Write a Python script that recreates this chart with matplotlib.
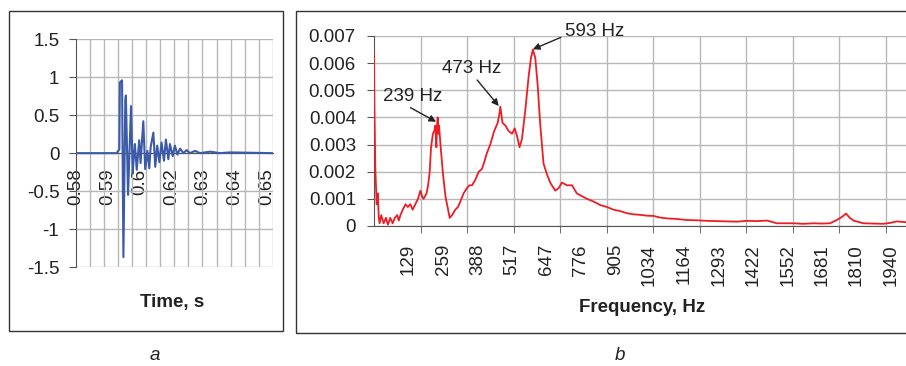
import matplotlib
matplotlib.use("Agg")
import matplotlib.pyplot as plt
from matplotlib.patches import Rectangle
import numpy as np

plt.rcParams['font.family'] = ['Liberation Sans', 'DejaVu Sans']

# panel a: impulse response (peaks and troughs)
time_s = [0.58, 0.5949, 0.5959, 0.5961, 0.5969, 0.5974, 0.5981, 0.5983, 0.5991,
          0.6002, 0.6008, 0.6013, 0.6016, 0.6023, 0.6032, 0.6037, 0.6047, 0.6054,
          0.6062, 0.6069, 0.6074, 0.6084, 0.6091, 0.6098, 0.6106, 0.6114, 0.6123,
          0.6130, 0.6139, 0.6145, 0.6155, 0.6163, 0.6172, 0.6182, 0.6194, 0.6206,
          0.6218, 0.6237, 0.6255, 0.6292, 0.6328, 0.6365, 0.6522]
signal = [0.0, 0.0, 0.05, 0.93, 0.96, -1.37, 0.69, 0.76, -0.55,
          0.62, -0.27, 0.0, 0.12, -0.22, 0.17, -0.13, 0.42, -0.21,
          0.03, -0.20, 0.08, 0.27, -0.18, 0.10, -0.12, 0.14, -0.10,
          0.18, -0.08, 0.12, -0.04, 0.10, -0.02, 0.06, 0.0, 0.04,
          0.0, 0.03, 0.0, 0.02, 0.0, 0.01, 0.0]
time_labels = ["0.58", "0.59", "0.6", "0.62", "0.63", "0.64", "0.65"]

# panel b: amplitude spectrum
freq_hz = [0, 1.5, 5, 10, 14, 18, 21, 27, 36, 45, 52, 61, 70, 78, 87, 93, 99, 108,
           118, 127, 136, 145, 155, 165, 174, 180, 186, 197, 203, 209, 214, 221,
           226, 230, 234, 237, 239, 242, 244, 251, 259, 268, 276, 284, 293, 305,
           315, 324, 336, 349, 358, 368, 380, 393, 405, 415, 424, 436, 451, 464,
           470, 474, 478, 482, 493, 505, 518, 528, 537, 546, 555, 568, 580, 589,
           596, 605, 614, 624, 636, 649, 661, 680, 693, 705, 724, 743, 761, 780,
           799, 824, 849, 874, 899, 924, 949, 974, 999, 1024, 1049, 1074, 1099,
           1136, 1174, 1211, 1249, 1286, 1324, 1361, 1399, 1436, 1474, 1490, 1511,
           1540, 1574, 1611, 1649, 1680, 1711, 1736, 1755, 1771, 1785, 1799, 1836,
           1874, 1911, 1940, 1961, 1996]
amplitude = [0.0064, 0.0045, 0.0021, 0.0008, 0.0012, 0.0003, 0.0001, 0.0004, 0.0001,
             0.0003, 0.00005, 0.0003, 0.0001, 0.0003, 0.0004, 0.0002, 0.0004, 0.0006,
             0.0008, 0.0007, 0.0008, 0.0006, 0.0008, 0.0010, 0.0013, 0.0011, 0.0010,
             0.0012, 0.0015, 0.0020, 0.0029, 0.0034, 0.0035, 0.0037, 0.0029, 0.0038,
             0.0040, 0.0034, 0.0037, 0.0028, 0.0019, 0.0011, 0.0007, 0.0003, 0.0004,
             0.0006, 0.0007, 0.0009, 0.0012, 0.0014, 0.0015, 0.0015, 0.0017, 0.0020,
             0.0021, 0.0024, 0.0027, 0.0030, 0.0035, 0.0038, 0.0041, 0.0044, 0.0041,
             0.0038, 0.0037, 0.0035, 0.0034, 0.0036, 0.0033, 0.0029, 0.0032, 0.0043,
             0.0055, 0.0062, 0.0065, 0.0062, 0.0052, 0.0037, 0.0023, 0.0019, 0.0016,
             0.0013, 0.0014, 0.0016, 0.0015, 0.0015, 0.0012, 0.0011, 0.0010, 0.0009,
             0.00077, 0.0007, 0.0006, 0.00055, 0.00047, 0.00043, 0.00041, 0.00038,
             0.00037, 0.00031, 0.00028, 0.00026, 0.00022, 0.00021, 0.00019, 0.00018,
             0.00017, 0.00016, 0.00019, 0.00018, 0.0002, 0.00016, 0.0001, 0.0001,
             0.0001, 0.00008, 0.0001, 0.00009, 0.0001, 0.00022, 0.00033, 0.00046,
             0.0003, 0.0002, 0.0001, 0.00009, 0.00008, 0.00012, 0.00017, 0.00014]
freq_labels = [129, 259, 388, 517, 647, 776, 905, 1034, 1164, 1293, 1422, 1552,
               1681, 1810, 1940]
peak_labels = ["239 Hz", "473 Hz", "593 Hz"]
peak_xy = [(233, 0.00384), (468, 0.00442), (596, 0.00651)]
arrow_tail = [(137, 0.00436), (387, 0.00538), (701, 0.00695)]
label_xy = [(144, 0.00476), (365, 0.00581), (826, 0.00715)]

grid_c = "#b8b8b8"
axis_c = "#555555"
text_c = "#222222"
fs = 13.5

fig = plt.figure(figsize=(9.06, 3.66), dpi=100)

# frames around the panels
fig.patches.append(Rectangle((9 / 906, 1 - 331 / 366), 274 / 906, 320 / 366,
                             transform=fig.transFigure, fill=False,
                             edgecolor="#333333", lw=1.0))
fig.patches.append(Rectangle((295.5 / 906, 1 - 333 / 366), 620 / 906, 322 / 366,
                             transform=fig.transFigure, fill=False,
                             edgecolor="#333333", lw=1.0))

# ---- panel a
ax1 = fig.add_axes([76 / 906, 1 - 267 / 366, 196.7 / 906, 227.7 / 366])
ax1.spines["bottom"].set_position(("data", 0))
ax1.plot(time_s, signal, color="#3b5ba9", lw=1.5, zorder=3)
ax1.set_xlim(0.58, 0.6522)
ax1.set_ylim(-1.5, 1.5)
ax1.set_yticks(np.arange(-1.5, 1.6, 0.5))
ax1.set_yticklabels(["-1.5", "-1", "-0.5", "0", "0.5", "1", "1.5"])
ax1.set_xticks(np.linspace(0.58, 0.65, len(time_labels)))
ax1.set_xticklabels(time_labels, rotation=90, va="top")
ax1.set_xticks(np.linspace(0.58, 0.6522, 15), minor=True)
ax1.grid(True, which="minor", axis="x", color=grid_c, lw=1.0)
ax1.grid(True, which="major", axis="y", color=grid_c, lw=1.0)
ax1.spines["bottom"].set_color(axis_c)
ax1.spines["top"].set_visible(False)
ax1.spines["right"].set_visible(False)
ax1.spines["left"].set_color(axis_c)
ax1.tick_params(axis="x", which="both", length=0, pad=11, labelsize=fs, colors=text_c)
ax1.tick_params(axis="y", length=5, pad=7, labelsize=fs, colors=text_c)
ax1.tick_params(axis="y", color=axis_c)
ax1.set_axisbelow(True)
fig.text(172.5 / 906, 1 - 302 / 366, "Time, s", ha="center", va="center",
         fontsize=fs, fontweight="bold", color=text_c)
fig.text(155 / 906, 1 - 356 / 366, "a", ha="center", va="center",
         fontsize=fs, style="italic", color=text_c)

# ---- panel b
ax2 = fig.add_axes([374 / 906, 1 - 226 / 366, 532 / 906, 190 / 366])
ax2.plot(freq_hz, amplitude, color="#ee1c25", lw=1.3, zorder=3)
ax2.set_xlim(0, 1996)
ax2.set_ylim(0, 0.007)
ax2.set_yticks(np.arange(0, 0.0071, 0.001))
ax2.set_yticklabels(["0", "0.001", "0.002", "0.003", "0.004", "0.005", "0.006", "0.007"])
ax2.set_xticks(freq_labels)
ax2.set_xticklabels([str(v) for v in freq_labels], rotation=90, va="top")
ax2.set_xticks(np.arange(174.5, 1996, 174.5), minor=True)
ax2.grid(True, which="minor", axis="x", color=grid_c, lw=1.0)
ax2.grid(True, which="major", axis="y", color=grid_c, lw=1.0)
ax2.spines["top"].set_visible(False)
ax2.spines["right"].set_visible(False)
ax2.spines["left"].set_color(axis_c)
ax2.spines["bottom"].set_color(axis_c)
ax2.tick_params(axis="x", which="major", length=0, pad=13, labelsize=fs, colors=text_c)
ax2.tick_params(axis="x", which="minor", length=5, color=axis_c)
ax2.tick_params(axis="y", length=5, pad=8, labelsize=fs, colors=text_c)
ax2.tick_params(axis="y", color=axis_c)
ax2.set_axisbelow(True)

for lab, head, tail, pos in zip(peak_labels, peak_xy, arrow_tail, label_xy):
    ax2.annotate("", xy=head, xytext=tail,
                 arrowprops=dict(arrowstyle="-|>", color="#222222", lw=1.0,
                                 mutation_scale=10, shrinkA=0, shrinkB=0),
                 annotation_clip=False, zorder=5)
    ax2.text(pos[0], pos[1], lab, ha="center", va="center", fontsize=fs,
             color=text_c, clip_on=False, zorder=5)

fig.text(641.7 / 906, 1 - 308 / 366, "Frequency, Hz", ha="center", va="center",
         fontsize=fs, fontweight="bold", color=text_c)
fig.text(620 / 906, 1 - 356 / 366, "b", ha="center", va="center",
         fontsize=fs, style="italic", color=text_c)

fig.savefig("out.png", dpi=100)
